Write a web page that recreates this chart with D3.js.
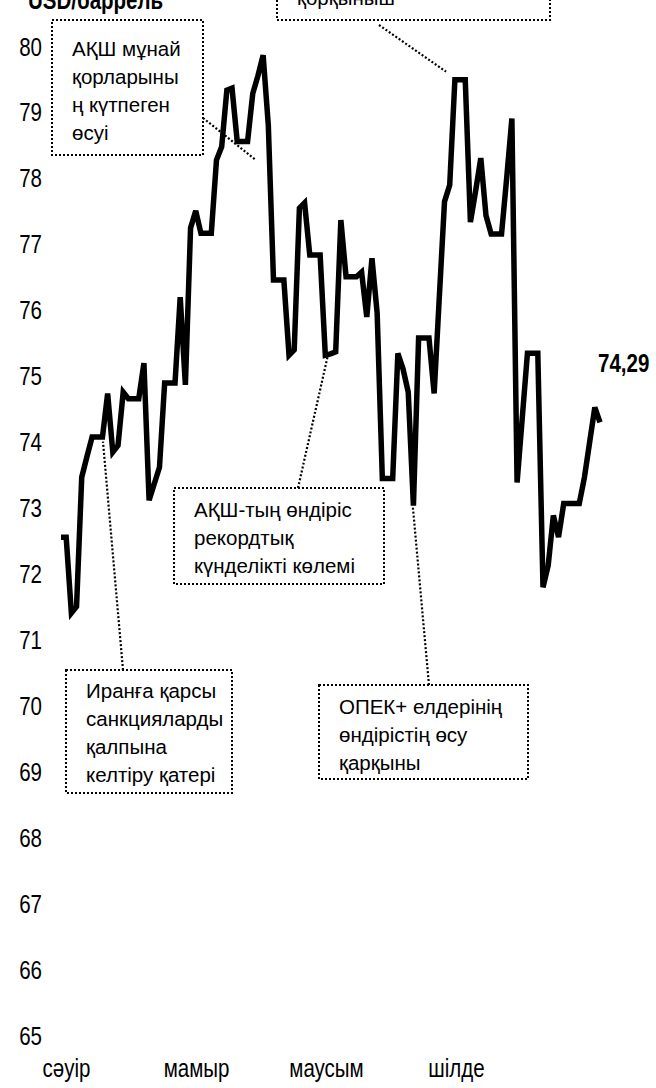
<!DOCTYPE html>
<html>
<head>
<meta charset="utf-8">
<script src="https://cdn.jsdelivr.net/npm/d3@7"></script>
<style>
    body { margin: 0; background: #fff; }
    svg { display: block; }
</style>
</head>
<body>
<svg id="canvas" width="656" height="1088"></svg>
<script>
    "use strict";

    // Daily price, weekends carry Friday's value (first day: Sat 31 March)
    var startDate = new Date(2018, 2, 31);
    var prices = [
        72.55, 72.55, 71.40, 71.50, 73.46, 73.77, 74.07, 74.07, 74.07, 74.73,
        73.84, 73.94, 74.75, 74.65, 74.65, 74.65, 75.19, 73.11, 73.36, 73.61,
        74.89, 74.89, 74.89, 76.19, 74.86, 77.24, 77.50, 77.16, 77.16, 77.16,
        78.27, 78.47, 79.33, 79.36, 78.55, 78.55, 78.55, 79.28, 79.55, 79.86,
        78.80, 76.45, 76.45, 76.45, 75.31, 75.39, 77.54, 77.62, 76.83, 76.83,
        76.83, 75.31, 75.33, 75.36, 77.36, 76.50, 76.50, 76.50, 76.57, 75.89,
        76.78, 75.95, 73.44, 73.44, 73.44, 75.34, 75.10, 74.75, 73.03, 75.57,
        75.57, 75.57, 74.73, 76.20, 77.64, 77.89, 79.49, 79.49, 79.49, 77.33,
        77.80, 78.30, 77.43, 77.15, 77.15, 77.15, 78.00, 78.90, 73.38, 74.36,
        75.34, 75.34, 75.34, 71.79, 72.12, 72.88, 72.55, 73.06, 73.06, 73.06,
        73.06, 73.46, 73.99, 74.52, 74.29
    ];
    var monthLabels = ["сәуір", "мамыр", "маусым", "шілде"];
    var yTicks = d3.range(65, 81);
    var unitLabel = "USD/баррель";
    var lastLabel = "74,29";

    // Callouts: text lines and the [day, price] each leader points at
    var noteLines = [
        ["қорқыныш"],
        ["АҚШ мұнай", "қорларыны", "ң күтпеген", "өсуі"],
        ["АҚШ-тың өндіріс", "рекордтық", "күнделікті көлемі"],
        ["Иранға қарсы", "санкцияларды", "қалпына", "келтіру қатері"],
        ["ОПЕК+ елдерінің", "өндірістің өсу", "қарқыны"]
    ];
    var noteTargets = [[74.3, 79.61], [37.6, 78.27], [51.5, 75.31], [8.1, 74.0], [67.9, 73.0]];

    // Box layout: left, top, right, bottom, first baseline offset, leader start
    var noteBoxes = [
        { x0: 277, y0: -40, x1: 550, y1: 20, first: 45, from: [379, 25] },
        { x0: 52, y0: 20, x1: 203, y1: 155, first: 36, from: [203, 118] },
        { x0: 174, y0: 488, x1: 384, y1: 584, first: 29, from: [298, 488] },
        { x0: 66, y0: 670, x1: 232, y1: 793, first: 28, from: [123, 670] },
        { x0: 319, y0: 685, x1: 528, y1: 779, first: 29, from: [429, 685] }
    ];

    var FONT = "'Liberation Sans', Arial, sans-serif";
    var NARROW = 0.82; // axis labels are set in a condensed face
    var LINE_HEIGHT = 28;

    var svg = d3.select(document.getElementById("canvas"));

    function condense(selection) {
        selection.each(function() {
            var w = this.getComputedTextLength();
            d3.select(this)
                .attr("textLength", w * NARROW)
                .attr("lengthAdjust", "spacingAndGlyphs");
        });
    }

    var dates = prices.map(function(p, i) {
        return d3.timeDay.offset(startDate, i);
    });

    var x = d3.scaleTime()
        .domain(d3.extent(dates))
        .range([61, 600]);
    var y = d3.scaleLinear()
        .domain([65, 80])
        .range([1035, 46]);
    var xDay = function(day) {
        return x(startDate.getTime() + day * 864e5);
    };
    var xMonth = d3.scalePoint()
        .domain(monthLabels)
        .range([66, 456]);

    // Y labels
    var yAxis = d3.axisLeft(y)
        .tickValues(yTicks)
        .tickSize(0)
        .tickPadding(0)
        .tickFormat(d3.format("d"));
    var gy = svg.append("g")
        .attr("transform", "translate(42,0)")
        .call(yAxis);
    gy.select(".domain").remove();
    gy.selectAll("text")
        .attr("font-family", FONT)
        .attr("font-size", "25px")
        .attr("fill", "#000")
        .attr("dy", "0.36em")
        .call(condense);

    // Month labels
    var xAxis = d3.axisBottom(xMonth)
        .tickSize(0)
        .tickPadding(0);
    var gx = svg.append("g")
        .attr("transform", "translate(0,1077)")
        .call(xAxis);
    gx.select(".domain").remove();
    gx.selectAll("text")
        .attr("font-family", FONT)
        .attr("font-size", "25px")
        .attr("fill", "#000")
        .attr("y", 0)
        .attr("dy", 0)
        .call(condense);

    // Unit, mostly cut off by the top edge
    svg.append("text")
        .attr("x", 28)
        .attr("y", 9)
        .attr("font-family", FONT)
        .attr("font-weight", "bold")
        .attr("font-size", "25px")
        .text(unitLabel)
        .call(condense);

    // Callout boxes
    var notes = svg.selectAll("g.note")
        .data(noteLines)
        .enter().append("g")
        .attr("class", "note");

    notes.append("rect")
        .attr("x", function(d, i) { return noteBoxes[i].x0; })
        .attr("y", function(d, i) { return noteBoxes[i].y0; })
        .attr("width", function(d, i) { return noteBoxes[i].x1 - noteBoxes[i].x0; })
        .attr("height", function(d, i) { return noteBoxes[i].y1 - noteBoxes[i].y0; })
        .attr("fill", "#fff")
        .attr("stroke", "#000")
        .attr("stroke-width", 2)
        .attr("stroke-dasharray", "2,2");

    notes.each(function(lines, i) {
        var box = noteBoxes[i];
        d3.select(this).selectAll("text")
            .data(lines)
            .enter().append("text")
            .attr("x", box.x0 + 20)
            .attr("y", function(d, j) { return box.y0 + box.first + j * LINE_HEIGHT; })
            .attr("font-family", FONT)
            .attr("font-size", "20.5px")
            .attr("fill", "#000")
            .text(function(d) { return d; });
    });

    notes.append("line")
        .attr("x1", function(d, i) { return noteBoxes[i].from[0]; })
        .attr("y1", function(d, i) { return noteBoxes[i].from[1]; })
        .attr("x2", function(d, i) { return xDay(noteTargets[i][0]); })
        .attr("y2", function(d, i) { return y(noteTargets[i][1]); })
        .attr("stroke", "#000")
        .attr("stroke-width", 2.2)
        .attr("stroke-dasharray", "2,2");

    // Price line
    var line = d3.line()
        .x(function(d, i) { return x(dates[i]); })
        .y(function(d) { return y(d); });

    svg.append("path")
        .datum(prices)
        .attr("d", line)
        .attr("fill", "none")
        .attr("stroke", "#000")
        .attr("stroke-width", 5.5)
        .attr("stroke-linejoin", "miter")
        .attr("stroke-miterlimit", 3);

    // Last value
    var n = prices.length - 1;
    svg.append("text")
        .attr("x", x(dates[n]) - 2)
        .attr("y", y(prices[n]) - 50)
        .attr("font-family", FONT)
        .attr("font-weight", "bold")
        .attr("font-size", "25px")
        .text(lastLabel)
        .call(condense);
</script>
</body>
</html>
